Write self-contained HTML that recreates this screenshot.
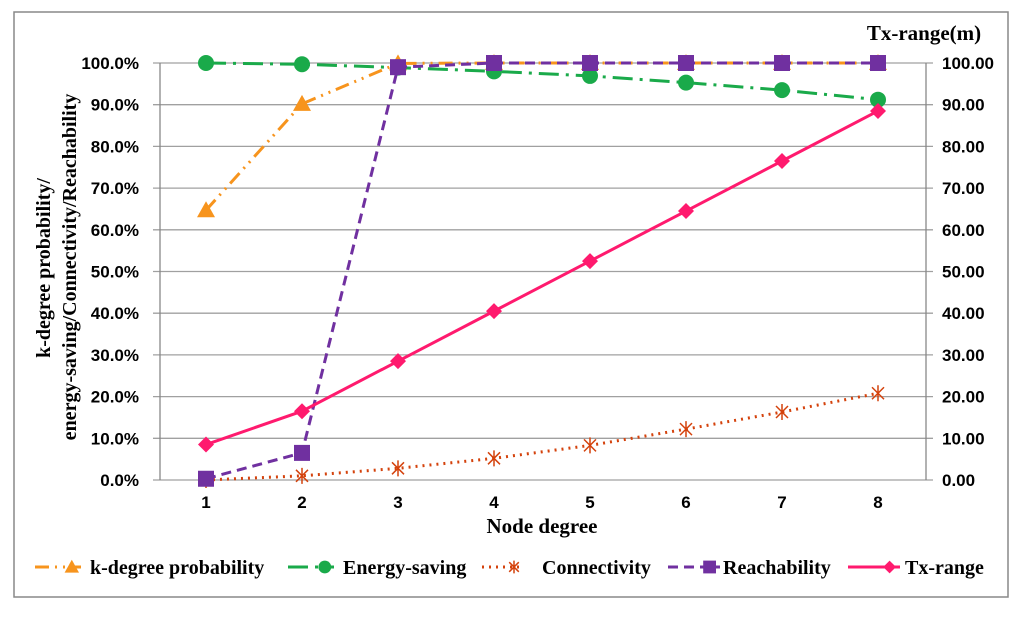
<!DOCTYPE html>
<html><head><meta charset="utf-8"><style>
body{margin:0;background:#fff;width:1024px;height:613px;overflow:hidden}
text{font-family:"Liberation Serif",serif;font-weight:bold;fill:#000}
text.sans{font-family:"Liberation Sans",sans-serif}
</style></head><body>
<svg id="chart" width="1024" height="613" xmlns="http://www.w3.org/2000/svg">
<rect x="14" y="12" width="994" height="585" fill="#fff" stroke="#888" stroke-width="1.5"/>
<g id="grid"></g><g id="axes"></g><g id="series"></g><g id="legend"></g>
</svg>
<script>
const categories=[1,2,3,4,5,6,7,8];
const kDegree=[64.7,90.2,99.9,100,100,100,100,100];
const energySaving=[100,99.7,98.9,98.0,96.9,95.3,93.5,91.2];
const connectivity=[0,1.0,2.8,5.2,8.3,12.2,16.3,20.8];
const reachability=[0.3,6.5,99,100,100,100,100,100];
const txRange=[8.5,16.5,28.5,40.5,52.5,64.5,76.5,88.5];
const leftTicks=["0.0%","10.0%","20.0%","30.0%","40.0%","50.0%","60.0%","70.0%","80.0%","90.0%","100.0%"];
const rightTicks=["0.00","10.00","20.00","30.00","40.00","50.00","60.00","70.00","80.00","90.00","100.00"];
const NS="http://www.w3.org/2000/svg";
const L=158,R=926,T=63,B=480,AX=160;
const x=i=>L+(i+0.5)*(R-L)/categories.length;
const y=v=>B-(v/100)*(B-T);
function mk(tag,attrs,parent){const e=document.createElementNS(NS,tag);for(const k in attrs)e.setAttribute(k,attrs[k]);parent.appendChild(e);return e;}
const grid=document.getElementById('grid'),axes=document.getElementById('axes'),series=document.getElementById('series'),legend=document.getElementById('legend');
leftTicks.forEach((t,i)=>{const v=i*10;
 const g=mk('line',{x1:AX-7,x2:R+7,y1:y(v),y2:y(v),stroke:'#a0a0a0','stroke-width':1.3},grid);
 
 const tl=mk('text',{x:139,y:y(v)+6,'text-anchor':'end','font-size':17,class:'sans'},axes);tl.textContent=t;
 
 const tr=mk('text',{x:942,y:y(v)+6,'font-size':17,class:'sans'},axes);tr.textContent=rightTicks[i];
 
});
let a=mk('line',{x1:AX,x2:AX,y1:T,y2:B,stroke:'#888','stroke-width':1.3},axes);
a=mk('line',{x1:R,x2:R,y1:T,y2:B,stroke:'#888','stroke-width':1.3},axes);
categories.forEach((c,i)=>{const t=mk('text',{x:x(i),y:B+28,'text-anchor':'middle','font-size':17,class:'sans'},axes);t.textContent=c;
 });
let t=mk('text',{x:542,y:533,'text-anchor':'middle','font-size':21},axes);t.textContent='Node degree';
t=mk('text',{x:924,y:40,'text-anchor':'middle','font-size':21},axes);t.textContent='Tx-range(m)';
t=mk('text',{transform:'translate(50,268) rotate(-90)','text-anchor':'middle','font-size':20},axes);
t.textContent='k-degree probability/';

t=mk('text',{transform:'translate(76,267) rotate(-90)','text-anchor':'middle','font-size':20},axes);
t.textContent='energy-saving/Connectivity/Reachability';


function marker(type,cx,cy,color,parent,s){
 s=s||1;let e;
 if(type==='tri')e=mk('polygon',{points:`${cx},${cy-9*s} ${cx-9*s},${cy+7*s} ${cx+9*s},${cy+7*s}`,fill:color},parent);
 else if(type==='circle')e=mk('circle',{cx,cy,r:8*s,fill:color},parent);
 else if(type==='square')e=mk('rect',{x:cx-8*s,y:cy-8*s,width:16*s,height:16*s,fill:color},parent);
 else if(type==='diamond')e=mk('polygon',{points:`${cx},${cy-8*s} ${cx+8*s},${cy} ${cx},${cy+8*s} ${cx-8*s},${cy}`,fill:color},parent);
 else if(type==='star'){e=mk('path',{d:`M${cx-6*s},${cy-6*s}L${cx+6*s},${cy+6*s}M${cx-6*s},${cy+6*s}L${cx+6*s},${cy-6*s}M${cx},${cy-8*s}L${cx},${cy+8*s}`,stroke:color,'stroke-width':1.5},parent);}
 return e;
}
const defs=[
 {name:'k-degree probability',key:'k-degree',data:kDegree,color:'#f7941d',dash:'14 6 2 6 2 6',m:'tri'},
 {name:'Energy-saving',key:'energy-saving',data:energySaving,color:'#1aaa4a',dash:'20 7 3 7',m:'circle'},
 {name:'Connectivity',key:'connectivity',data:connectivity,color:'#d4420c',dash:'2 5',m:'star'},
 {name:'Reachability',key:'reachability',data:reachability,color:'#7030a0',dash:'10 6',m:'square'},
 {name:'Tx-range',key:'tx-range',data:txRange,color:'#ff1a6e',dash:'',m:'diamond'}
];
defs.forEach(d=>{
 const pts=d.data.map((v,i)=>`${x(i)},${y(v)}`).join(' ');
 const pl=mk('polyline',{points:pts,fill:'none',stroke:d.color,'stroke-width':3,'stroke-dasharray':d.dash},series);
 
 d.data.forEach((v,i)=>{const e=marker(d.m,x(i),y(v),d.color,series);
  });
});
const lx=[35,288,482,668,848],lw=[46,46,40,52,52],tx=[90,343,542,723,905];
defs.forEach((d,i)=>{
 const g=mk('g',{},legend);
 const x0=lx[i],yy=567;
 mk('line',{x1:x0,x2:x0+lw[i],y1:yy,y2:yy,stroke:d.color,'stroke-width':3,'stroke-dasharray':d.dash},g);
 marker(d.m,x0+lw[i]*0.8,yy,d.color,g,0.8);
 const tt=mk('text',{x:tx[i],y:yy+7,'font-size':20},g);tt.textContent=d.name;
});
</script>
</body></html>
